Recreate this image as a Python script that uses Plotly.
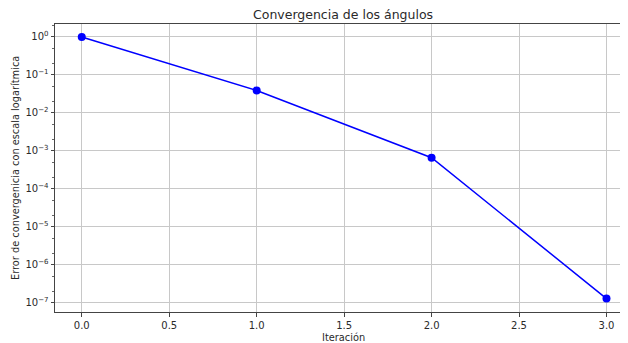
import plotly.graph_objects as go

iteraciones = [0, 1, 2, 3]
errores = [1.0, 0.039, 6.6e-4, 1.3e-7]
x_tick_vals = [0.0, 0.5, 1.0, 1.5, 2.0, 2.5, 3.0]
x_tick_text = ["0.0", "0.5", "1.0", "1.5", "2.0", "2.5", "3.0"]
y_tick_vals = [1, 1e-1, 1e-2, 1e-3, 1e-4, 1e-5, 1e-6, 1e-7]
y_tick_text = ["10<sup>0</sup>", "10<sup>−1</sup>", "10<sup>−2</sup>", "10<sup>−3</sup>",
               "10<sup>−4</sup>", "10<sup>−5</sup>", "10<sup>−6</sup>", "10<sup>−7</sup>"]
titulo = "Convergencia de los ángulos"
etiqueta_x = "Iteración"
etiqueta_y = "Error de convergenicia con escala logarítmica"

font = "DejaVu Sans"
W, H = 620, 335
L, T, B, R = 47, 16, 31, 0
pw = W - L - R

fig = go.Figure()
fig.add_trace(go.Scatter(
    x=iteraciones, y=errores, mode="lines+markers",
    line=dict(color="#0000ff", width=1.5),
    marker=dict(color="#0000ff", size=8),
    showlegend=False, cliponaxis=False,
))

fig.update_layout(
    width=W, height=H,
    margin=dict(l=L, r=R, t=T, b=B, autoexpand=False),
    paper_bgcolor="white", plot_bgcolor="white",
    font=dict(family=font, size=10, color="#2a2a2a"),
    annotations=[
        dict(text=titulo, xref="paper", yref="paper", x=(335 - L) / pw, y=1,
             yshift=10, xanchor="center", yanchor="middle", showarrow=False,
             font=dict(size=12.5, color="#2a2a2a")),
        dict(text=etiqueta_x, xref="paper", yref="paper", x=(335 - L) / pw, y=0,
             yshift=-25, xanchor="center", yanchor="middle", showarrow=False,
             font=dict(size=9.8, color="#2a2a2a")),
        dict(text=etiqueta_y, xref="paper", yref="paper",
             x=0, y=0.5, xshift=-40, xanchor="center", yanchor="middle", textangle=-90,
             showarrow=False, font=dict(size=9.8, color="#2a2a2a")),
    ],
)
fig.update_xaxes(
    range=[-0.153, 3.123], tickvals=x_tick_vals, ticktext=x_tick_text,
    showgrid=True, gridcolor="#c8c8c8", gridwidth=1,
    showline=True, linecolor="#444", linewidth=1, mirror=True,
    ticks="outside", ticklen=3.5, tickcolor="#444",
    zeroline=False, automargin=False,
    tickfont=dict(size=10),
)
fig.update_yaxes(
    type="log", range=[-7.24, 0.34], tickvals=y_tick_vals, ticktext=y_tick_text,
    showgrid=True, gridcolor="#c8c8c8", gridwidth=1,
    showline=True, linecolor="#444", linewidth=1, mirror=False,
    ticks="outside", ticklen=3.5, tickcolor="#444",
    minor=dict(ticks="outside", ticklen=2, tickcolor="#666", showgrid=False),
    zeroline=False, automargin=False,
    tickfont=dict(size=10),
)

fig.write_html("out.html")
